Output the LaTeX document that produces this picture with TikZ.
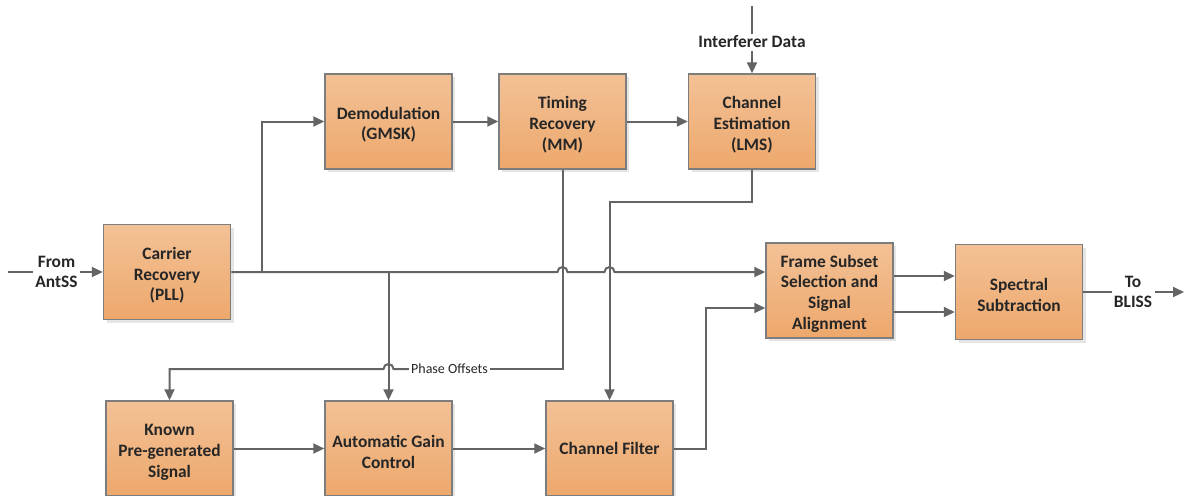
\documentclass[tikz,border=0pt]{standalone}
\usepackage{fontspec}
\setmainfont{Carlito}
\usetikzlibrary{arrows.meta,shadows,calc}
\definecolor{boxtop}{RGB}{243,193,150}
\definecolor{boxbot}{RGB}{237,168,108}
\definecolor{boxline}{RGB}{125,125,125}
\definecolor{wirec}{RGB}{100,100,100}
\definecolor{ink}{RGB}{38,38,38}
% extra room above the first line of a multi-line block label
\newcommand\topgap{\rule{0pt}{9.3pt}}

\begin{document}
\begin{tikzpicture}[x=0.5pt,y=-0.5pt,
  block/.style={draw=boxline, line width=0.75pt, top color=boxtop, bottom color=boxbot,
    minimum width=63.5pt, minimum height=47.5pt, align=center, text=ink, inner sep=1pt,
    font=\fontsize{8.7}{10.4}\selectfont\bfseries,
    drop shadow={shadow xshift=1.5pt, shadow yshift=-1.5pt, fill=black!10, opacity=1}},
  wire/.style={draw=wirec, line width=1pt},
  arr/.style={wire, -{Triangle[length=5.5pt,width=5pt]}},
  lbl/.style={font=\fontsize{8.7}{10.2}\selectfont\bfseries, text=ink, align=center,
    fill=white, inner sep=1pt},
  small/.style={font=\fontsize{7}{8}\selectfont, text=ink, fill=white, inner sep=1pt}]

\useasboundingbox (0,0) rectangle (1186,495);

% processing blocks
\node[block] (carrier) at (167,272)     {\topgap Carrier\\Recovery\\(PLL)};
\node[block] (demod)   at (388.5,121.5) {\topgap Demodulation\\(GMSK)};
\node[block] (timing)  at (562.5,121.5) {\topgap Timing\\Recovery\\(MM)};
\node[block] (chest)   at (752,121.5)   {\topgap Channel\\Estimation\\(LMS)};
\node[block] (frame)   at (829.5,290.5) {\topgap Frame Subset\\Selection and\\Signal\\Alignment};
\node[block] (spec)    at (1019,292)    {\topgap Spectral\\Subtraction};
\node[block] (known)   at (169.5,448.5) {\topgap Known\\Pre-generated\\Signal};
\node[block] (agc)     at (388.5,448.5) {\topgap Automatic Gain\\Control};
\node[block] (cfilt)   at (609.5,448.5) {Channel Filter};

% external inputs and outputs
\coordinate (inL) at (8,272);
\node[lbl] (from) at (56.5,272) {From\\AntSS};
\draw[wire] (inL) -- (from);
\draw[arr] (from) -- (carrier);

\coordinate (intop) at (752,6);
\node[lbl] (intf) at (752,42) {Interferer Data};
\draw[wire] (intop) -- (intf);
\draw[arr] (intf) -- (chest.north);

\coordinate (outR) at (1184,292);
\node[lbl] (bliss) at (1133,292) {To\\BLISS};
\draw[wire] (spec) -- (bliss);
\draw[arr] (bliss) -- (outR);

% upper chain
\coordinate (j1) at (262,272);
\coordinate (j2) at (388.5,272);
\draw[arr] (j1) |- (demod.west);
\draw[arr] (demod) -- (timing);
\draw[arr] (timing) -- (chest);

% carrier output to frame selection, hopping over the vertical wires
\coordinate (fin1) at ($(frame.west)+(0,-18.5)$);
\draw[arr] (carrier.east) -- (557.5,272) arc(180:360:5) -- (604.5,272) arc(180:360:5) -- (fin1);
\draw[arr] (j2) -- (agc.north);

% phase offsets feedback
\node[small] (phase) at (449.5,369) {Phase Offsets};
\draw[wire] (timing.south) |- (phase.east);
\draw[arr] (phase.west) -- (393.5,369) arc(0:-180:5) -- (known.north |- phase) -- (known.north);

% channel estimate to channel filter
\coordinate (ce) at (752,201.5);
\draw[arr] (chest.south) -- (ce) -| (cfilt.north);

% lower chain
\draw[arr] (known) -- (agc);
\draw[arr] (agc) -- (cfilt);
\coordinate (cf) at (706,448.5);
\coordinate (fin2) at ($(frame.west)+(0,17.5)$);
\draw[arr] (cfilt.east) -- (cf) |- (fin2);

% frame selection to spectral subtraction
\coordinate (fo1) at ($(frame.east)+(0,-14.5)$);
\coordinate (fo2) at ($(frame.east)+(0,21.5)$);
\draw[arr] (fo1) -- (fo1 -| spec.west);
\draw[arr] (fo2) -- (fo2 -| spec.west);

\end{tikzpicture}
\end{document}
